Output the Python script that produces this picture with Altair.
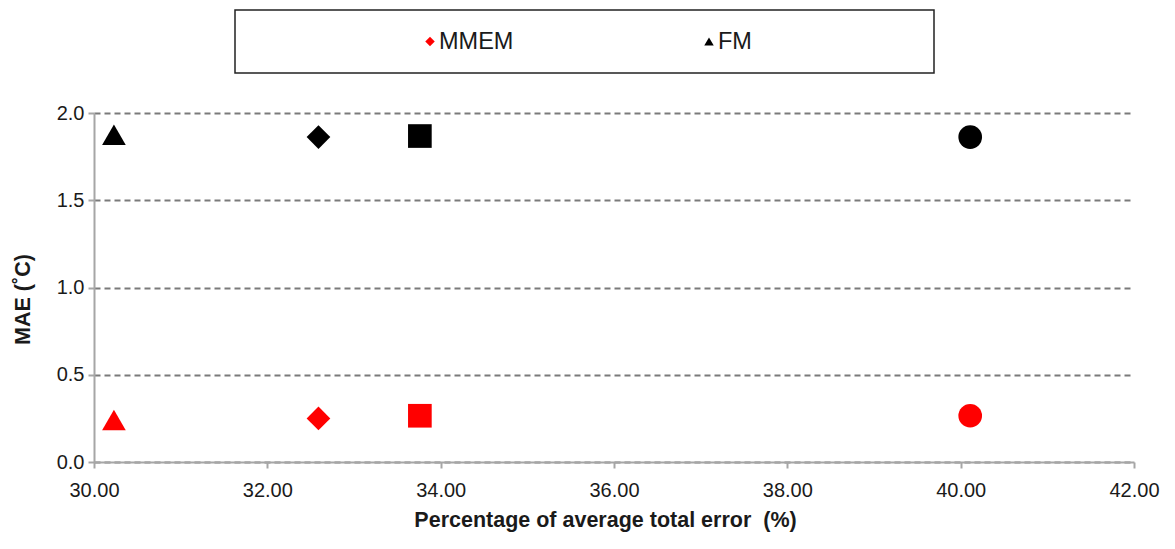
import altair as alt
import pandas as pd

# Percentage of average total error (%) for each run
error_pct = [30.23, 32.59, 33.76, 40.11]
run_ids = ["R1", "R2", "R3", "R4"]
run_shapes = ["triangle-up", "diamond", "square", "circle"]

# MAE (°C) per run for each method
mae_mmem = [0.24, 0.25, 0.265, 0.265]
mae_fm = [1.875, 1.862, 1.868, 1.862]

series_names = ["MMEM", "FM"]
series_colors = ["#ff0000", "#000000"]
legend_shapes = ["diamond", "triangle-up"]

x_ticks = [30, 32, 34, 36, 38, 40, 42]
y_ticks = [0.0, 0.5, 1.0, 1.5, 2.0]

FONT = "Liberation Sans"
TEXT = "#1a1a1a"
PLOT_W = 1040
PLOT_H = 349

rows = []
for name, values in zip(series_names, [mae_mmem, mae_fm]):
    for rid, err, mae in zip(run_ids, error_pct, values):
        rows.append({"series": name, "run": rid, "error": err, "mae": mae})
df = pd.DataFrame(rows)

main = alt.Chart(df).mark_point(filled=True, opacity=1, size=560).encode(
    x=alt.X(
        "error:Q",
        scale=alt.Scale(domain=[30, 42], nice=False, zero=False),
        axis=alt.Axis(
            values=x_ticks, format=".2f", grid=False, labelFlush=False,
            title="Percentage of average total error\u00a0 (%)",
            labelPadding=12, titlePadding=9, titleX=511,
        ),
    ),
    y=alt.Y(
        "mae:Q",
        scale=alt.Scale(domain=[0, 2], nice=False),
        axis=alt.Axis(
            values=y_ticks, format=".1f", grid=True,
            gridDash=[6, 4], gridColor="#7a7a7a", gridWidth=2,
            title="MAE (˚C)", labelPadding=4, titlePadding=22, titleY=186,
        ),
    ),
    color=alt.Color("series:N", scale=alt.Scale(domain=series_names, range=series_colors), legend=None),
    shape=alt.Shape("run:N", scale=alt.Scale(domain=run_ids, range=run_shapes), legend=None),
).properties(width=PLOT_W, height=PLOT_H, view=alt.ViewBackground(stroke="transparent"))

# Legend strip above the plot: a framed box holding one symbol + label per method
leg_df = pd.DataFrame({"series": series_names, "shape": legend_shapes})
frame = alt.Chart(pd.DataFrame({"box": [0]})).mark_rect(
    fill="white", stroke="#222222", strokeWidth=1.5
).encode(
    x=alt.value(141), x2=alt.value(840), y=alt.value(0), y2=alt.value(63)
)
leg_base = alt.Chart(leg_df).encode(
    x=alt.X("series:N", scale=alt.Scale(type="point", domain=series_names, range=[336, 615], padding=0), axis=None),
    y=alt.value(31.5),
)
leg_sym = leg_base.mark_point(filled=True, opacity=1, size=90).encode(
    color=alt.Color("series:N", scale=alt.Scale(domain=series_names, range=series_colors), legend=None),
    shape=alt.Shape("shape:N", scale=None),
)
leg_txt = leg_base.mark_text(align="left", baseline="middle", dx=9, fontSize=23.5, font=FONT, color=TEXT).encode(
    text="series:N"
)
legend_panel = alt.layer(frame, leg_sym, leg_txt).properties(
    width=PLOT_W, height=63,
    view=alt.ViewBackground(stroke="transparent"),
)

chart = alt.vconcat(legend_panel, main, spacing=40, bounds="flush").properties(
    padding={"left": 11, "top": 8, "right": 5, "bottom": 5},
).resolve_scale(
    color="independent", shape="independent", x="independent", y="independent"
).configure_axis(
    labelFont=FONT, labelFontSize=20, labelColor=TEXT,
    titleFont=FONT, titleFontSize=21.5, titleFontWeight="bold", titleColor=TEXT,
    domainColor="#a6a6a6", domainWidth=2,
    tickColor="#a6a6a6", tickWidth=2, tickSize=6,
)

chart.save("out.html", embed_options={"renderer": "svg", "actions": False})
